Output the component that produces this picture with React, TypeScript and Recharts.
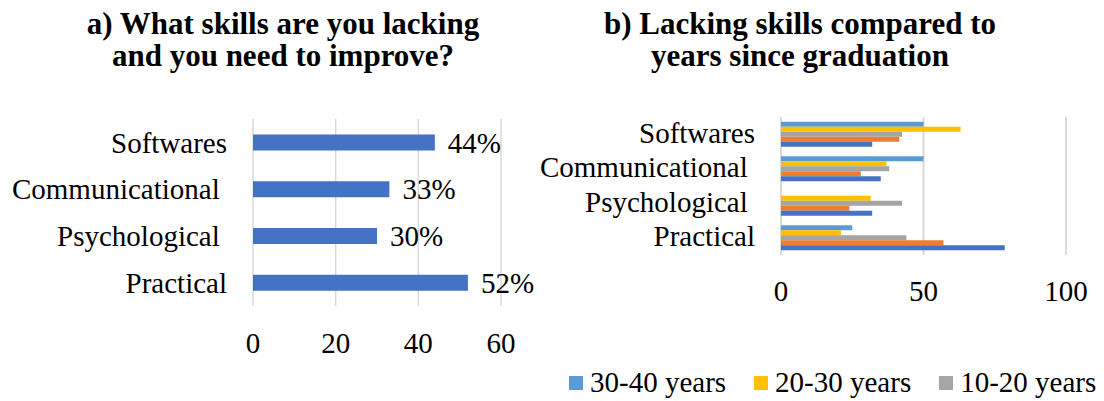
import { BarChart, Bar, XAxis, YAxis, CartesianGrid, LabelList, Legend } from "recharts";

const FONT = "'Liberation Serif', 'Times New Roman', Times, serif";

// left chart
const skills = ["Softwares", "Communicational ", "Psychological ", "Practical"];
const lackingPct = [44, 33, 30, 52];

// right chart, by years since graduation
const years3040 = [50, 50, 0, 25];
const years2030 = [63, 37, 31.5, 21];
const years1020 = [42.5, 38, 42.5, 44];
const years510 = [41.5, 28, 24, 57];
const years05 = [32, 35, 32, 78.5];

const seriesNames = ["30-40 years", "20-30 years", "10-20 years", "5-10 years", "0-5 years"];
const seriesKeys = ["y3040", "y2030", "y1020", "y510", "y05"];
const seriesColors = ["#5B9BD5", "#FFC000", "#A5A5A5", "#ED7D31", "#4472C4"];

const leftData = skills.map((name, i) => ({ name, value: lackingPct[i] }));
const rightData = skills.map((name, i) => ({
  name,
  y3040: years3040[i],
  y2030: years2030[i],
  y1020: years1020[i],
  y510: years510[i],
  y05: years05[i],
}));

const CatTick = (props: any) => {
  const { x, y, payload, shift = 0 } = props;
  return (
    <text
      x={x}
      y={y + shift}
      dy="0.355em"
      textAnchor="end"
      fontSize={29}
      fill="#000"
      style={{ whiteSpace: "pre", fontFamily: FONT }}
    >
      {payload.value}
    </text>
  );
};

const titleStyle: React.CSSProperties = {
  position: "absolute",
  top: 8,
  fontFamily: FONT,
  fontWeight: "bold",
  fontSize: 31,
  lineHeight: "32px",
  textAlign: "center",
  color: "#000",
  whiteSpace: "nowrap",
};

const LegendBox = () => (
  <div style={{ display: "flex", fontFamily: FONT, fontSize: 29, color: "#000", whiteSpace: "nowrap" }}>
    {seriesNames.slice(0, 3).map((n, i) => (
      <div key={n} style={{ display: "flex", alignItems: "center", marginRight: 28 }}>
        <span style={{ width: 14, height: 14, background: seriesColors[i], marginRight: 7 }} />
        {n}
      </div>
    ))}
  </div>
);

const tickStyle = { fontSize: 29, fontFamily: FONT, fill: "#000" };

export default function App() {
  return (
    <div style={{ position: "absolute", left: 0, top: 0, width: 1104, height: 401, background: "#fff", fontFamily: FONT }}>
      <div style={{ ...titleStyle, left: 33, width: 500 }}>
        a) What skills are you lacking
        <br />
        and you need to improve?
      </div>
      <div style={{ ...titleStyle, left: 550, width: 500 }}>
        b) Lacking skills compared to
        <br />
        years since graduation
      </div>

      <div style={{ position: "absolute", left: 0, top: 0 }}>
        <BarChart
          width={560}
          height={401}
          data={leftData}
          layout="vertical"
          margin={{ top: 119, right: 59, bottom: 35, left: 0 }}
          barCategoryGap="33%"
        >
          <CartesianGrid horizontal={false} stroke="#D9D9D9" strokeWidth={1.5} />
          <XAxis
            type="number"
            domain={[0, 60]}
            ticks={[0, 20, 40, 60]}
            height={60}
            axisLine={false}
            tickLine={false}
            tickSize={0}
            tickMargin={26}
            tick={tickStyle}
          />
          <YAxis
            type="category"
            dataKey="name"
            width={253}
            axisLine={false}
            tickLine={false}
            tickSize={0}
            tickMargin={26}
            tick={<CatTick />}
          />
          <Bar dataKey="value" fill="#4472C4" isAnimationActive={false}>
            <LabelList
              dataKey="value"
              position="right"
              offset={13}
              formatter={(v: any) => `${v}%`}
              style={tickStyle}
            />
          </Bar>
        </BarChart>
      </div>

      <div style={{ position: "absolute", left: 540, top: 0 }}>
        <BarChart
          width={564}
          height={401}
          data={rightData}
          layout="vertical"
          margin={{ top: 117, right: 38, bottom: 86, left: 0 }}
          barCategoryGap="14%"
          barGap={0}
        >
          <CartesianGrid horizontal={false} stroke="#D9D9D9" strokeWidth={2} />
          <XAxis
            type="number"
            domain={[0, 100]}
            ticks={[0, 50, 100]}
            height={60}
            axisLine={false}
            tickLine={false}
            tickSize={0}
            tickMargin={25}
            tick={tickStyle}
          />
          <YAxis
            type="category"
            dataKey="name"
            width={241}
            axisLine={false}
            tickLine={false}
            tickSize={0}
            tickMargin={26}
            tick={<CatTick shift={-2} />}
          />
          {seriesKeys.map((k, i) => (
            <Bar key={k} dataKey={k} name={seriesNames[i]} fill={seriesColors[i]} isAnimationActive={false} />
          ))}
          <Legend
            layout="horizontal"
            verticalAlign="middle"
            align="center"
            wrapperStyle={{ top: 366, left: 29, width: 540 }}
            content={() => <LegendBox />}
          />
        </BarChart>
      </div>
    </div>
  );
}
